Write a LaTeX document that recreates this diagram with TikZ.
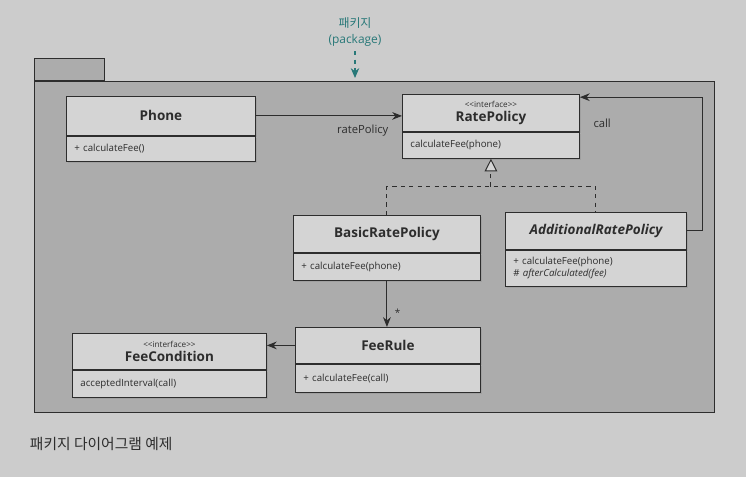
\documentclass[tikz,border=0pt]{standalone}
\usepackage{fontspec}
\setmainfont{Open Sans}
\newfontfamily\krfont{Noto Sans CJK KR}
\usepackage{tikz}
\usetikzlibrary{arrows.meta,positioning,calc,shadows}
\definecolor{paperc}{RGB}{204,204,204}
\definecolor{pkgc}{RGB}{172,172,172}
\definecolor{boxc}{RGB}{212,212,212}
\definecolor{linec}{RGB}{45,45,45}
\definecolor{tealc}{RGB}{40,120,120}

\tikzset{
  cls/.style={draw=linec, fill=boxc, anchor=north west, inner sep=0pt, line width=0.6pt,
    align=center, text=linec, font=\fontsize{9.6}{11.5}\selectfont\bfseries,
    drop shadow={opacity=0.25, shadow xshift=1pt, shadow yshift=-1pt}},
  ops/.style={draw=linec, fill=boxc, below=0pt of #1, inner xsep=0.2cm, inner ysep=0pt,
    line width=0.6pt, align=left, text=linec, font=\fontsize{6.9}{8.6}\selectfont,
    drop shadow={opacity=0.25, shadow xshift=1pt, shadow yshift=-1pt}},
  arr/.style={draw=linec, line width=0.7pt, -{Stealth[length=7pt,width=5.5pt]}},
  lbl/.style={text=linec, font=\fontsize{8}{10}\selectfont},
}
\newcommand{\stereo}{{\fontsize{5.8}{7}\selectfont\mdseries <{}<interface>{}>}}

\begin{document}
\begin{tikzpicture}[x=0.025cm,y=-0.025cm]
  \fill[paperc] (0,0) rectangle (746,477);
  \useasboundingbox (0,0) rectangle (746,477);

  % package frame
  \node[draw=linec, fill=pkgc, line width=0.7pt, anchor=north west, inner sep=0pt,
        minimum width=17cm, minimum height=8.275cm] (pkg) at (34,81) {};
  \node[draw=linec, fill=pkgc, line width=0.7pt, anchor=south west, inner sep=0pt,
        minimum width=1.75cm, minimum height=0.55cm] (tab) at (pkg.north west) {};

  \node[align=center, text=tealc, font=\fontsize{8.5}{11}\selectfont] (pkglabel) at (355,32)
       {{\krfont 패키지}\\(package)};
  \coordinate (pkgtop) at (355,78);
  \draw[tealc, dashed, line width=0.8pt, -{Stealth[length=7pt,width=6pt]}] (pkglabel.south) -- (pkgtop);

  % classes
  \node[cls, minimum width=4.725cm, minimum height=0.975cm] (phone) at (66,96) {Phone};
  \node[ops=phone, text width=4.325cm, minimum height=0.625cm] (phone-ops) {+ calculateFee()};

  \node[cls, minimum width=4.425cm, minimum height=0.925cm] (ratepolicy) at (402,94) {\stereo\\[-1pt]RatePolicy};
  \node[ops=ratepolicy, text width=4.025cm, minimum height=0.65cm] (ratepolicy-ops) {calculateFee(phone)};

  \node[cls, minimum width=4.675cm, minimum height=0.925cm] (basic) at (293,215) {BasicRatePolicy};
  \node[ops=basic, text width=4.275cm, minimum height=0.675cm] (basic-ops) {+ calculateFee(phone)};

  \node[cls, minimum width=4.525cm, minimum height=0.925cm, font=\fontsize{9.6}{11.5}\selectfont\bfseries\itshape] (additional) at (505,212) {AdditionalRatePolicy};
  \node[ops=additional, text width=4.125cm, minimum height=0.9cm] (additional-ops) {+ calculateFee(phone)\\\# \textit{afterCalculated(fee)}};

  \node[cls, minimum width=4.85cm, minimum height=0.9cm] (feecond) at (72,333) {\stereo\\[-1pt]FeeCondition};
  \node[ops=feecond, text width=4.45cm, minimum height=0.675cm] (feecond-ops) {acceptedInterval(call)};

  \node[cls, minimum width=4.625cm, minimum height=0.9cm] (feerule) at (295,327) {FeeRule};
  \node[ops=feerule, text width=4.225cm, minimum height=0.7cm] (feerule-ops) {+ calculateFee(call)};

  % associations
  \draw[arr] (phone.east) -- (phone.east -| ratepolicy.west)
     node[lbl, pos=1, below left=3pt and 6pt] {ratePolicy};
  \draw[arr] (additional.east) -- ++(16,0) |- ([yshift=-0.08cm]ratepolicy.north east)
     node[lbl, pos=1, below right=12pt and 6pt] {call};
  \draw[arr] (basic-ops.south) -- (basic-ops.south |- feerule.north)
     node[lbl, pos=0.7, right=2pt, font=\fontsize{7}{8}\selectfont] {*};
  \draw[arr] (feerule.west) -- (feerule.west -| feecond.east);

  % realization
  \coordinate (bus) at ($(ratepolicy-ops.south)+(0,28)$);
  \draw[linec, dashed, line width=0.7pt] (basic.north) -- (basic.north |- bus)
     -- (additional.north |- bus) -- (additional.north);
  \draw[linec, dashed, line width=0.7pt, -{Triangle[length=9pt,width=9pt,fill=boxc]}]
     (bus) -- (ratepolicy-ops.south);

  % caption
  \node[anchor=west, text=linec, font=\krfont\fontsize{10.5}{12}\selectfont] (caption) at (25,444)
       {패키지 다이어그램 예제};
\end{tikzpicture}
\end{document}
